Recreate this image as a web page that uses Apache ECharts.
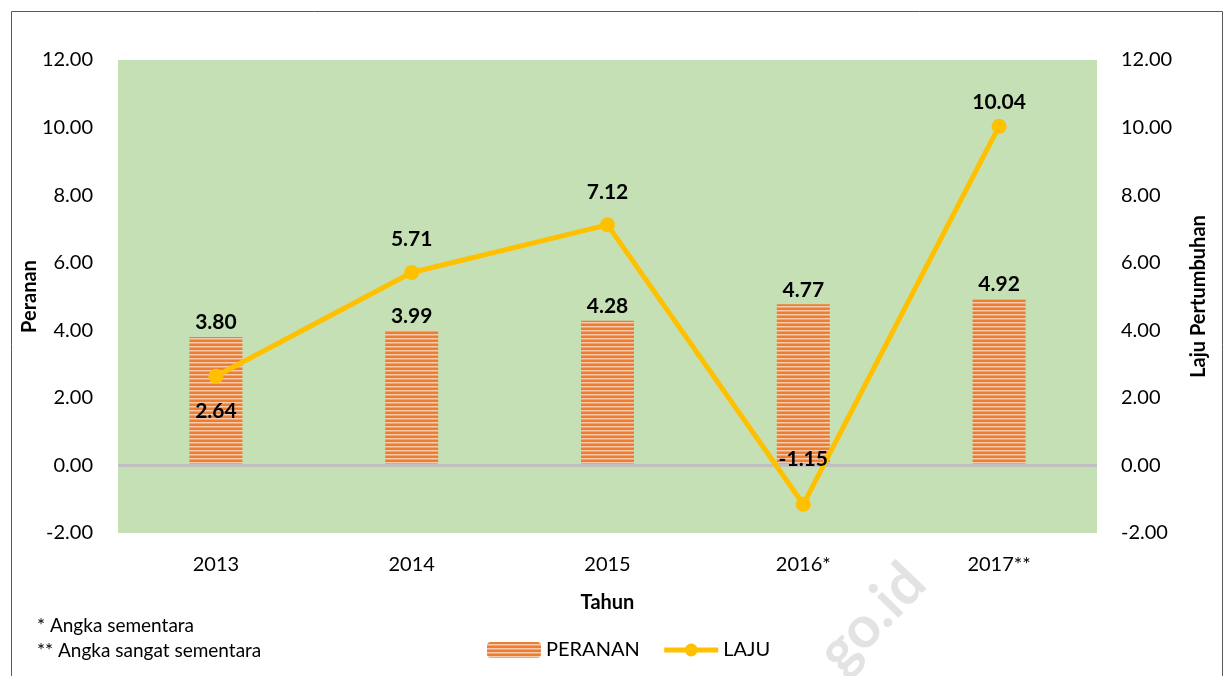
<!DOCTYPE html>
<html>
<head>
<meta charset="utf-8">
<script src="https://cdn.jsdelivr.net/npm/echarts@6/dist/echarts.min.js"></script>
<style>
  html, body { margin: 0; padding: 0; background: #fff; }
  #chart { width: 1225px; height: 676px; }
</style>
</head>
<body>
<div id="chart"></div>
<script>
// data
var tahun = ["2013", "2014", "2015", "2016*", "2017**"];
var peranan = [3.80, 3.99, 4.28, 4.77, 4.92];
var laju = [2.64, 5.71, 7.12, -1.15, 10.04];

// label layout for the line (not data)
var lajuLabelPos = ["bottom", "top", "top", "top", "top"];
var lajuLabelDist = [17, 15, 15, 27, 6];

var FONT = "Lato";

// striped fill for the bars
function stripePattern() {
  var c = document.createElement("canvas");
  c.width = 4;
  c.height = 4;
  var ctx = c.getContext("2d");
  ctx.fillStyle = "#ED7D31";
  ctx.fillRect(0, 0, 4, 2);
  ctx.fillStyle = "#F8CBAD";
  ctx.fillRect(0, 2, 4, 1);
  ctx.fillStyle = "#F3A36C";
  ctx.fillRect(0, 3, 4, 1);
  return c;
}

var myChart = echarts.init(document.getElementById("chart"));

var option = {
  animation: false,
  textStyle: { fontFamily: FONT },
  grid: {
    left: 118,
    right: 128,
    top: 60,
    bottom: 143,
    show: true,
    backgroundColor: "#C5E0B4",
    borderWidth: 0
  },
  legend: {
    left: 482,
    top: 635,
    itemWidth: 54,
    itemHeight: 16,
    itemGap: 22,
    lineStyle: { width: 5 },
    textStyle: { fontSize: 20, color: "#000", fontFamily: FONT },
    data: ["PERANAN", "LAJU"]
  },
  xAxis: {
    type: "category",
    data: tahun,
    name: "Tahun",
    nameLocation: "middle",
    nameGap: 60,
    nameTextStyle: { fontSize: 20, fontWeight: "bold", color: "#000" },
    axisLine: { show: false },
    axisTick: { show: false },
    axisLabel: { fontSize: 20, color: "#000", margin: 22 }
  },
  yAxis: [
    {
      type: "value",
      min: -2,
      max: 12,
      interval: 2,
      name: "Peranan",
      nameLocation: "middle",
      nameGap: 78,
      nameRotate: 90,
      nameMoveOverlap: false,
      nameTextStyle: { fontSize: 20, fontWeight: "bold", color: "#000" },
      axisLine: { show: false },
      axisTick: { show: false },
      splitLine: { show: false },
      axisLabel: {
        fontSize: 20,
        color: "#000",
        margin: 25,
        formatter: function (v) { return v.toFixed(2); }
      }
    },
    {
      type: "value",
      min: -2,
      max: 12,
      interval: 2,
      name: "Laju Pertumbuhan",
      nameLocation: "middle",
      nameGap: 92,
      nameRotate: 90,
      nameMoveOverlap: false,
      nameTextStyle: { fontSize: 20, fontWeight: "bold", color: "#000" },
      axisLine: { show: false },
      axisTick: { show: false },
      splitLine: { show: false },
      axisLabel: {
        fontSize: 20,
        color: "#000",
        margin: 24,
        formatter: function (v) { return v.toFixed(2); }
      }
    }
  ],
  series: [
    {
      name: "PERANAN",
      type: "bar",
      yAxisIndex: 0,
      barWidth: 53,
      data: peranan,
      itemStyle: { color: { image: stripePattern(), repeat: "repeat" } },
      label: {
        show: true,
        position: "top",
        distance: 4,
        fontSize: 21,
        fontWeight: "bold",
        color: "#000",
        formatter: function (p) { return p.value.toFixed(2); }
      },
      markLine: {
        silent: true,
        symbol: "none",
        label: { show: false },
        emphasis: { disabled: true },
        lineStyle: { color: "#C0C0C0", width: 3, type: "solid", opacity: 1 },
        data: [{ yAxis: 0 }]
      },
      z: 2
    },
    {
      name: "LAJU",
      type: "line",
      yAxisIndex: 1,
      data: laju.map(function (v, i) {
        return {
          value: v,
          label: { position: lajuLabelPos[i], distance: lajuLabelDist[i] }
        };
      }),
      symbol: "circle",
      symbolSize: 15,
      lineStyle: { color: "#FFC000", width: 5 },
      itemStyle: { color: "#FFC000" },
      label: {
        show: true,
        fontSize: 21,
        fontWeight: "bold",
        color: "#000",
        formatter: function (p) { return p.value.toFixed(2); }
      },
      z: 5
    }
  ],
  graphic: [
    {
      type: "rect",
      shape: { x: 11.5, y: 11.5, width: 1211, height: 700 },
      style: { fill: "none", stroke: "#595959", lineWidth: 1 },
      silent: true
    },
    {
      type: "text",
      left: 37,
      top: 616,
      style: { text: "* Angka sementara", font: "19px " + FONT, fill: "#000" }
    },
    {
      type: "text",
      left: 37,
      top: 641,
      style: { text: "** Angka sangat sementara", font: "19px " + FONT, fill: "#000" }
    },
    {
      type: "text",
      x: 872,
      y: 618,
      rotation: 0.8,
      silent: true,
      z: -1,
      style: {
        text: "go.id",
        font: "bold 58px " + FONT,
        fill: "#E3E3E3",
        align: "center",
        verticalAlign: "middle"
      }
    }
  ]
};

myChart.setOption(option);

window.onresize = function () {
  myChart.resize();
};
</script>
</body>
</html>
